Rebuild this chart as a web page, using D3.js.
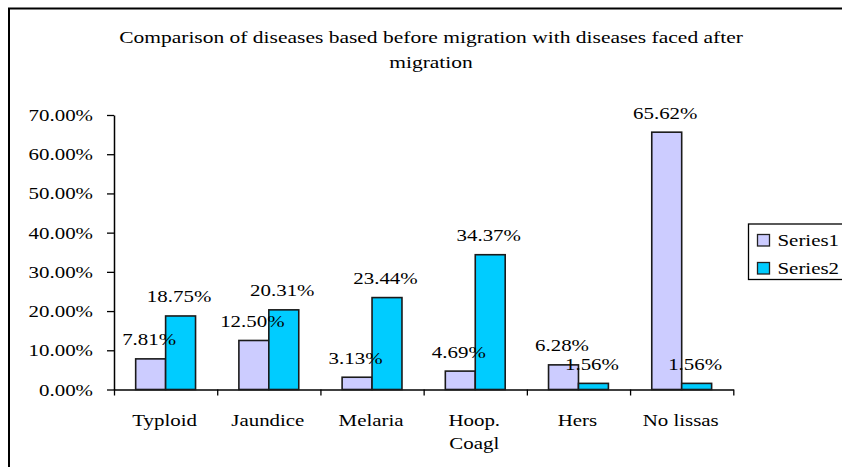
<!DOCTYPE html>
<html><head><meta charset="utf-8">
<script src="https://cdn.jsdelivr.net/npm/d3@7"></script>
<style>
html,body{margin:0;padding:0;background:#fff;}
svg text{font-family:"Liberation Serif","Times New Roman",serif;fill:#000;}
</style></head>
<body>
<svg id="chart" width="842" height="467"></svg>
<script>
const categories = ["Typloid", "Jaundice", "Melaria", "Hoop.\nCoagl", "Hers", "No lissas"];
const seriesNames = ["Series1", "Series2"];
const series1 = [0.0781, 0.1250, 0.0313, 0.0469, 0.0628, 0.6562];
const series2 = [0.1875, 0.2031, 0.2344, 0.3437, 0.0156, 0.0156];
const seriesLabels1 = ["7.81%", "12.50%", "3.13%", "4.69%", "6.28%", "65.62%"];
const seriesLabels2 = ["18.75%", "20.31%", "23.44%", "34.37%", "1.56%", "1.56%"];
const yTicks = [0, 0.1, 0.2, 0.3, 0.4, 0.5, 0.6, 0.7];
const colors = ["#CCCCFF", "#00CCFF"];
const titleLines = ["Comparison of diseases based before migration with diseases faced after", "migration"];

const SX = 1.23;      // horizontal stretch of the original picture
const FS = 17;
const svg = d3.select("#chart");
const FONT = '"Liberation Serif","Times New Roman",serif';

// outer frame
svg.append("rect").attr("x", 9).attr("y", 8.5).attr("width", 900).attr("height", 500)
  .attr("fill", "none").attr("stroke", "#000").attr("stroke-width", 2);

const plotL = 114, plotR = 733.3, plotT = 115, plotB = 389.5;

const x0 = d3.scaleBand().domain(categories).range([plotL, plotR]).paddingInner(0.42).paddingOuter(0.21);
const x1 = d3.scaleBand().domain(seriesNames).range([0, x0.bandwidth()]);
const y = d3.scaleLinear().domain([0, 0.7]).range([plotB, plotT]);
const xb = d3.scaleLinear().domain([0, categories.length]).range([plotL, plotR]);

function stretchedText(sel, x, yy, anchor, sx) {
  return sel.append("text")
    .attr("transform", `translate(${x},${yy}) scale(${sx || SX},1)`)
    .attr("text-anchor", anchor)
    .attr("font-family", FONT)
    .style("font-size", FS + "px");
}

// title
titleLines.forEach((t, i) => {
  stretchedText(svg, 431, 43 + i * 24.5, "middle", 1.265).text(t);
});

// y axis
const yAxis = d3.axisLeft(y).tickValues(yTicks).tickFormat(d3.format(".2%")).tickSize(7).tickSizeOuter(0);
const gy = svg.append("g").attr("transform", `translate(${plotL},0)`).call(yAxis);
gy.attr("font-family", FONT);
gy.select(".domain").attr("stroke", "#000").attr("stroke-width", 1.5);
gy.selectAll(".tick line").attr("stroke", "#000").attr("stroke-width", 1.3);
gy.selectAll(".tick text")
  .attr("x", null).attr("dy", null)
  .attr("transform", `translate(-21,5.5) scale(${SX},1)`)
  .style("font-size", FS + "px")
  .attr("font-family", FONT)
  .attr("fill", "#000");

// x axis (boundary ticks)
const xAxis = d3.axisBottom(xb).tickValues(d3.range(categories.length + 1)).tickFormat("").tickSize(6).tickSizeOuter(0);
const gx = svg.append("g").attr("transform", `translate(0,${plotB})`).call(xAxis);
gx.select(".domain").attr("stroke", "#000").attr("stroke-width", 1.5);
gx.selectAll(".tick line").attr("stroke", "#000").attr("stroke-width", 1.3);

// category labels
categories.forEach(c => {
  const cx = x0(c) + x0.bandwidth() / 2;
  c.split("\n").forEach((line, i) => {
    stretchedText(svg, cx - 1, 425.5 + i * 23, "middle").text(line);
  });
});

// bars
const data = categories.map((c, i) => ({cat: c, vals: [
  {s: seriesNames[0], v: series1[i], lab: seriesLabels1[i], k: 0},
  {s: seriesNames[1], v: series2[i], lab: seriesLabels2[i], k: 1}
]}));

const groups = svg.append("g").selectAll("g").data(data).join("g")
  .attr("transform", d => `translate(${x0(d.cat)},0)`);

groups.selectAll("rect").data(d => d.vals).join("rect")
  .attr("x", d => x1(d.s))
  .attr("y", d => y(d.v))
  .attr("width", x1.bandwidth())
  .attr("height", d => y(0) - y(d.v))
  .attr("fill", d => colors[d.k])
  .attr("stroke", "#1a1a1a")
  .attr("stroke-width", 1.6);

groups.each(function(d) {
  const g = d3.select(this);
  d.vals.forEach(v => {
    stretchedText(g, x1(v.s) + x1.bandwidth() / 2 - 1.5, y(v.v) - 13.5, "middle").text(v.lab);
  });
});

// legend
const lg = svg.append("g");
lg.append("rect").attr("x", 748.5).attr("y", 224).attr("width", 200).attr("height", 55.5)
  .attr("fill", "#fff").attr("stroke", "#000").attr("stroke-width", 1.3);
seriesNames.forEach((s, i) => {
  lg.append("rect").attr("x", 757.5).attr("y", 234.5 + i * 28).attr("width", 12).attr("height", 11.5)
    .attr("fill", colors[i]).attr("stroke", "#222").attr("stroke-width", 1.3);
  stretchedText(lg, 777.5, 246 + i * 28, "start").text(s);
});
</script>
</body></html>
